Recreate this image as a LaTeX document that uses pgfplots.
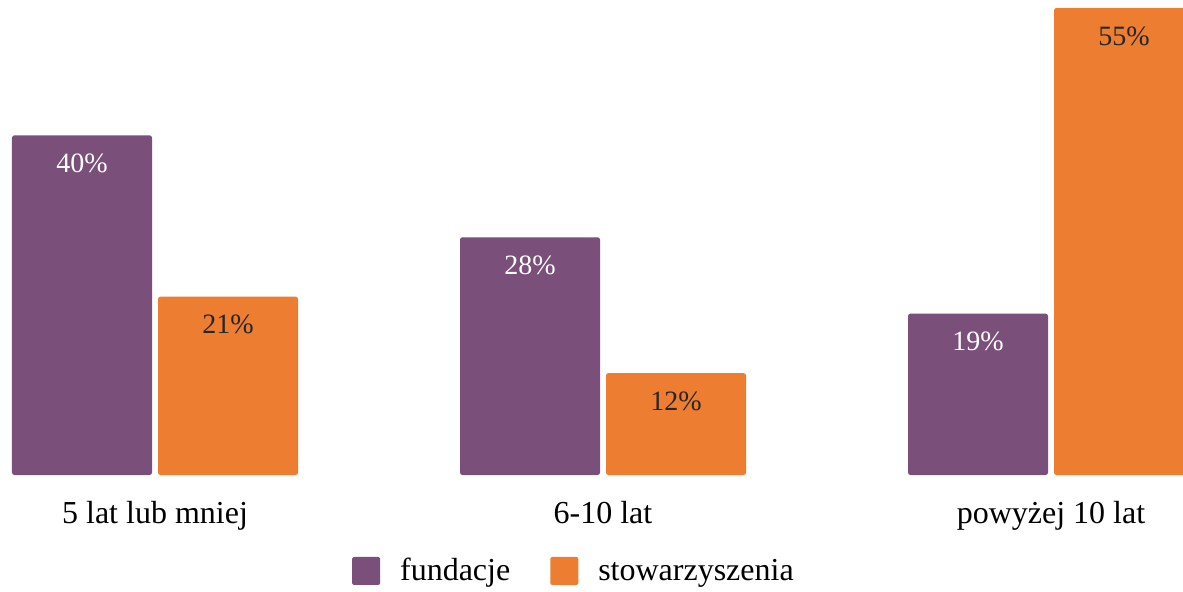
\documentclass[border=0pt]{standalone}
\usepackage{fontspec}
\setmainfont{Liberation Serif}
\usepackage{pgfplots}
\pgfplotsset{compat=1.18}
\definecolor{fund}{HTML}{7A4F79}
\definecolor{stow}{HTML}{ED7D31}

\begin{document}
\begin{tikzpicture}
\begin{axis}[
    scale only axis,
    width=591.5pt,
    height=237.5pt,
    ybar,
    bar width=70pt,
    xmin=-0.34598, xmax=2.29464,
    ymin=0, ymax=55.94,
    xtick={0,1,2},
    xticklabels={5 lat lub mniej,6-10 lat,powyżej 10 lat},
    ytick=\empty,
    axis line style={draw=none},
    tick style={draw=none},
    xticklabel style={font=\fontsize{16}{19}\selectfont, anchor=base, yshift=-20pt},
    nodes near coords={\pgfmathprintnumber[assume math mode=true]{\pgfplotspointmeta}\%},
    every node near coord/.append style={font=\fontsize{14}{17}\selectfont, anchor=north, inner sep=0pt, yshift=-9pt},
    legend style={draw=none, at={(0.486,-0.202)}, anchor=center, legend columns=2,
        font=\fontsize{16}{19}\selectfont,
        /tikz/every even column/.append style={column sep=18pt}},
    legend image code/.code={\fill[#1, draw=none, rounded corners=1pt] (0pt,-7pt) rectangle (14pt,7pt);
        \path (22pt,0pt);},
]
\addplot+[bar shift=-36.5pt, fill=fund, draw=none, rounded corners=1.2pt,
    every node near coord/.append style={text=white}]
    coordinates {(0,40) (1,28) (2,19)};
\addplot+[bar shift=36.5pt, fill=stow, draw=none, rounded corners=1.2pt,
    every node near coord/.append style={text=black!85}]
    coordinates {(0,21) (1,12) (2,55)};
\legend{fundacje,stowarzyszenia}
\end{axis}
\pgfresetboundingbox
\path[use as bounding box] (0,-58pt) rectangle (591.5pt,237.5pt);
\end{tikzpicture}
\end{document}
